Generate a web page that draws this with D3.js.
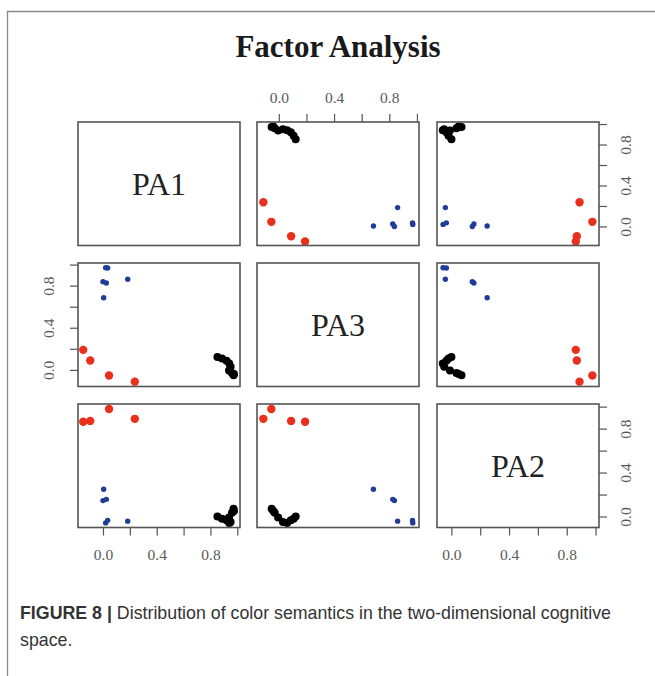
<!DOCTYPE html>
<html><head><meta charset="utf-8">
<script src="https://cdn.jsdelivr.net/npm/d3@7"></script>
<style>
html,body{margin:0;padding:0;background:#fff;}
svg{display:block;}
</style></head>
<body>
<script>
// ---- data ----
const variables = ["PA1", "PA3", "PA2"];
const groups = ["black","black","black","black","black","black","black","black","black",
                "blue","blue","blue","blue","blue","blue",
                "red","red","red","red"];
const PA1 = [0.852,0.886,0.92,0.94,0.95,0.938,0.96,0.972,0.975,
             0.02,0.035,0.0,0.025,0.184,0.005,
             0.237,0.045,-0.095,-0.147];
const PA3 = [0.122,0.107,0.087,0.06,0.03,-0.005,-0.03,-0.052,-0.04,
             0.97,0.968,0.837,0.825,0.86,0.685,
             -0.112,-0.054,0.089,0.19];
const PA2 = [0.0,-0.02,-0.035,-0.06,-0.05,-0.01,0.035,0.07,0.05,
             -0.058,-0.035,0.145,0.156,-0.042,0.248,
             0.889,0.978,0.87,0.863];
const tickValues = [0, 0.2, 0.4, 0.6, 0.8, 1.0];
const tickLabels = ["0.0", "", "0.4", "", "0.8", ""];
const title = "Factor Analysis";
const captionBold = "FIGURE 8 |";
const captionRest = " Distribution of color semantics in the two-dimensional cognitive";
const captionLine2 = "space.";

const values = {PA1, PA3, PA2};
const domains = {PA1: [-0.186, 1.02], PA3: [-0.158, 1.015], PA2: [-0.1, 1.024]};
const colors = {black: "#000000", blue: "#1f3c98", red: "#e8301c"};
const radii = {black: 4, blue: 2.7, red: 4.2};

// ---- layout ----
const W = 655, H = 676;
const colX = [78, 257, 437], panelW = 162;
const rowY = [122, 263, 404], panelH = 123.5;
const svg = d3.select("body").append("svg").attr("width", W).attr("height", H);

// outer frame
svg.append("path").attr("d", `M7.5,${H} L7.5,11.5 L${W},11.5`)
  .attr("fill","none").attr("stroke","#8a8a8a").attr("stroke-width",1.3);

svg.append("text").attr("x", 338).attr("y", 57).attr("text-anchor","middle")
  .attr("font-family","Liberation Serif, serif").attr("font-weight","bold")
  .attr("font-size", 31).attr("fill","#1a1a1a").text(title);

const xs = variables.map((v,j) => d3.scaleLinear().domain(domains[v]).range([colX[j], colX[j]+panelW]));
const ys = variables.map((v,i) => d3.scaleLinear().domain(domains[v]).range([rowY[i]+panelH, rowY[i]]));

const tickFont = "Liberation Serif, serif";
const tickColor = "#5a5a5a";
const tickFontSize = 15.5;

function styleAxis(g){
  g.selectAll(".tick line").attr("stroke","#555").attr("stroke-width",1.2);
  g.selectAll(".tick text").attr("font-family",tickFont).attr("font-size",tickFontSize).attr("fill",tickColor);
}
const fmt = d => tickLabels[tickValues.indexOf(d)] ?? "";

const n = PA1.length;
const idx = d3.range(n);

variables.forEach((vy, i) => {
  variables.forEach((vx, j) => {
    const g = svg.append("g");
    if (i === j) {
      g.append("text").attr("x", colX[j]+panelW/2).attr("y", rowY[i]+panelH/2+11)
        .attr("text-anchor","middle").attr("font-family","Liberation Serif, serif")
        .attr("font-size", 32).attr("fill","#222").text(vx);
    } else {
      g.selectAll("circle").data(idx).join("circle")
        .attr("cx", k => xs[j](values[vx][k]))
        .attr("cy", k => ys[i](values[vy][k]))
        .attr("r", k => radii[groups[k]])
        .attr("fill", k => colors[groups[k]]);
    }
    g.append("rect").attr("x", colX[j]).attr("y", rowY[i]).attr("width", panelW).attr("height", panelH)
      .attr("fill","none").attr("stroke","#555").attr("stroke-width",1.6);
  });
});

function addAxis(axis, transform, pad){
  const g = svg.append("g").attr("transform", transform)
    .call(axis.tickValues(tickValues).tickFormat(fmt).tickSize(8).tickPadding(pad).tickSizeOuter(0));
  g.select(".domain").remove();
  styleAxis(g);
  return g;
}
// top axis for PA3 (column 2)
addAxis(d3.axisTop(xs[1]), `translate(0,${rowY[0]})`, 11);
// bottom axes for PA1 (col 1) and PA2 (col 3)
addAxis(d3.axisBottom(xs[0]), `translate(0,${rowY[2]+panelH})`, 13);
addAxis(d3.axisBottom(xs[2]), `translate(0,${rowY[2]+panelH})`, 13);
// left axis for PA3 (row 2)
const gl = addAxis(d3.axisLeft(ys[1]), `translate(${colX[0]},0)`, 5);
gl.selectAll(".tick text").attr("text-anchor","middle").attr("x",null).attr("dy",null)
  .attr("transform","translate(-28,0) rotate(-90)").attr("dominant-baseline","middle");
// right axes for PA1 (row 1) and PA2 (row 3)
[0,2].forEach(i => {
  const g = addAxis(d3.axisRight(ys[i]), `translate(${colX[2]+panelW},0)`, 5);
  g.selectAll(".tick text").attr("text-anchor","middle").attr("x",null).attr("dy",null)
    .attr("transform","translate(28,0) rotate(-90)").attr("dominant-baseline","middle");
});

// caption
const cap = svg.append("text").attr("x", 20).attr("y", 619)
  .attr("font-family","Liberation Sans, Arial, sans-serif").attr("font-size", 17.8).attr("fill","#333");
cap.append("tspan").attr("font-weight","bold").text(captionBold);
cap.append("tspan").text(captionRest);
svg.append("text").attr("x", 20).attr("y", 646)
  .attr("font-family","Liberation Sans, Arial, sans-serif").attr("font-size", 17.8).attr("fill","#333")
  .text(captionLine2);
</script>
</body></html>
